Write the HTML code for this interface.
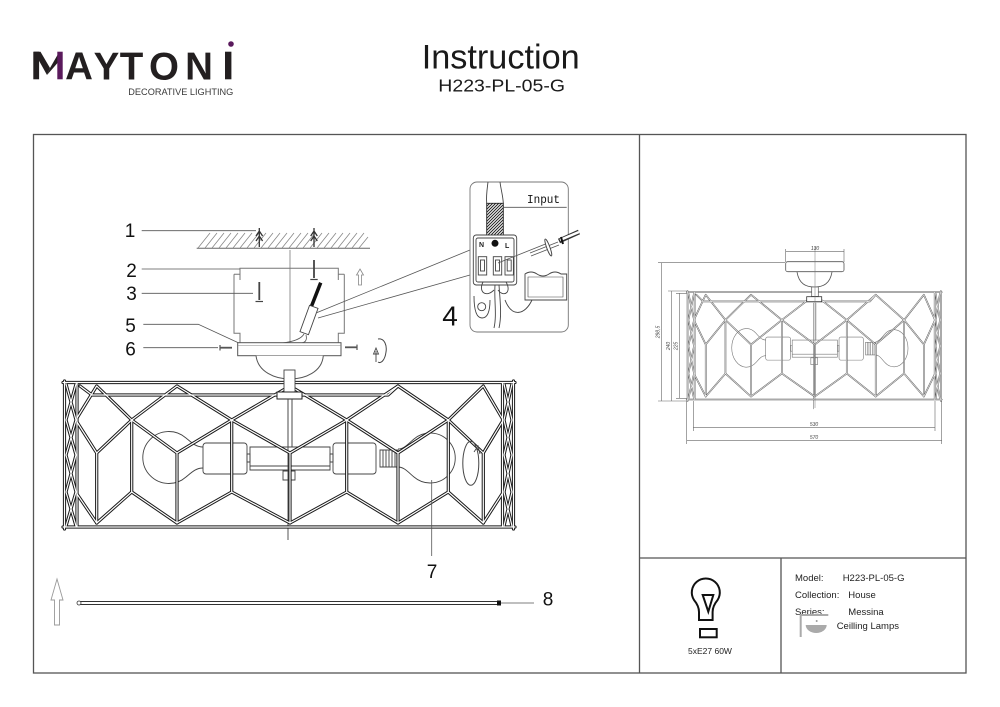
<!DOCTYPE html>
<html><head><meta charset="utf-8"><style>
html,body{margin:0;padding:0;background:#fff;}
svg{display:block;}
</style></head><body>
<svg width="1000" height="707" viewBox="0 0 1000 707" xmlns="http://www.w3.org/2000/svg" font-family="'Liberation Sans', sans-serif">
<defs>
  <pattern id="hatch" patternUnits="userSpaceOnUse" width="3" height="3">
    <rect width="3" height="3" fill="#fff"/>
    <path d="M-1,1 L1,-1 M0,3 L3,0 M2,4 L4,2" stroke="#222" stroke-width="1"/>
  </pattern>
  <g id="drum" fill="none" stroke-linejoin="round" stroke-linecap="round">
    <path vector-effect="non-scaling-stroke" d="M63,382.5 H515 M63,527 H515 M64.5,381 V529 M513.5,381 V529 M77,383 V527 M502.5,383 V527"/>
    <path vector-effect="non-scaling-stroke" d="M80,386 L92,395 L388,395 L398,386"/>
    <path vector-effect="non-scaling-stroke" d="M77,418 L96.7,386 L131.7,420 L177,386 L231.7,420 L290,386 L346.7,420 L398,386 L448.3,420 L483.3,386 L502,418"/>
    <path vector-effect="non-scaling-stroke" d="M77,422 L96.7,453 L131.7,420 L177,453 L231.7,420 L290,453 L346.7,420 L398,453 L448.3,420 L483.3,453 L502,422"/>
    <path vector-effect="non-scaling-stroke" d="M131.7,420 V492 M231.7,420 V492 M346.7,420 V492 M448.3,420 V492 M96.7,453 V523 M177,453 V523 M290,453 V523 M398,453 V523 M483.3,453 V523"/>
    <path vector-effect="non-scaling-stroke" d="M77,494 L96.7,523 L131.7,492 L177,523 L231.7,492 L290,523 L346.7,492 L398,523 L448.3,492 L483.3,523 L502,494"/>
    <path vector-effect="non-scaling-stroke" d="M66,384 L76,420 L66,455 L76,492 L66,526 M76,384 L66,420 L76,455 L66,492 L76,526 M504,384 L512,420 L504,455 L512,492 L504,526 M512,384 L504,420 L512,455 L504,492 L512,526"/>
  </g>
  <g id="bulbs" fill="none">
    <path vector-effect="non-scaling-stroke" d="M203,447 C196,447 192,443 186,438 A26,26 0 1 0 186,477 C192,472 196,468 203,468"/>
    <rect vector-effect="non-scaling-stroke" x="203" y="443" width="44" height="31" rx="3"/>
    <rect vector-effect="non-scaling-stroke" x="247" y="454" width="3" height="8"/>
    <rect vector-effect="non-scaling-stroke" x="250" y="447" width="80" height="23"/>
    <path vector-effect="non-scaling-stroke" d="M250,466 H330"/>
    <rect vector-effect="non-scaling-stroke" x="330" y="454" width="3" height="8"/>
    <rect vector-effect="non-scaling-stroke" x="333" y="443" width="43" height="31" rx="3"/>
    <path vector-effect="non-scaling-stroke" d="M380,450 H398 V467 H380 Z M383,450 V467 M386,450 V467 M389,450 V467 M392,450 V467 M395,450 V467"/>
    <path vector-effect="non-scaling-stroke" d="M398,449 C404,449 408,444 414,439 A25,25 0 1 1 414,477 C408,472 404,467 398,467"/>
    <path vector-effect="non-scaling-stroke" d="M288,397 V540 M292,397 V447"/>
    <rect vector-effect="non-scaling-stroke" x="283" y="471" width="12" height="9"/>
  </g>
</defs>

<!-- Header -->
<rect x="33.3" y="51.7" width="5.8" height="27.6" fill="#231f20"/>
<polygon points="34,51.7 40.5,51.7 50,68 47,75" fill="#231f20"/>
<polygon points="47,75 50,68 57.5,55 57.5,63" fill="#231f20"/>
<rect x="57.3" y="51.7" width="5.4" height="27.6" fill="#5a1a5c"/>
<g font-size="38.5" font-weight="bold" fill="#231f20" text-anchor="middle">
  <text x="79" y="79.3">A</text>
  <text x="106.5" y="79.3">Y</text>
  <text x="131.5" y="79.3">T</text>
  <text x="164" y="79.3">O</text>
  <text x="199" y="79.3">N</text>
</g>
<rect x="225" y="51.7" width="6.4" height="27.6" fill="#231f20"/>
<circle cx="231" cy="44" r="2.8" fill="#5a1a5c"/>
<text x="128.3" y="95" font-size="9.3" fill="#3a3a3a" textLength="105" lengthAdjust="spacingAndGlyphs">DECORATIVE LIGHTING</text>

<text x="421.7" y="68.3" font-size="34.5" fill="#1a1a1a" textLength="158" lengthAdjust="spacingAndGlyphs">Instruction</text>
<text x="438.3" y="91.7" font-size="17.5" fill="#1a1a1a" textLength="126.7" lengthAdjust="spacingAndGlyphs">H223-PL-05-G</text>

<!-- Frame -->
<g stroke="#555" stroke-width="1.3" fill="none">
  <rect x="33.5" y="134.5" width="932.5" height="538.5"/>
  <path d="M639.5,134.5 V673 M639.5,558 H966 M781,558 V673"/>
</g>

<!-- Ceiling -->
<g stroke="#888" stroke-width="0.8">
  <path d="M196.7,248.3 H370" stroke="#666" stroke-width="1"/>
  <path d="M198,248 L210,233 M205,248 L217,233 M212,248 L224,233 M219,248 L231,233 M226,248 L238,233 M233,248 L245,233 M240,248 L252,233 M247,248 L259,233 M254,248 L266,233 M261,248 L273,233 M268,248 L280,233 M275,248 L287,233 M282,248 L294,233 M289,248 L301,233 M296,248 L308,233 M303,248 L315,233 M310,248 L322,233 M317,248 L329,233 M324,248 L336,233 M331,248 L343,233 M338,248 L350,233 M345,248 L357,233 M352,248 L364,233 M359,248 L368,237"/>
</g>
<!-- anchors -->
<g stroke="#333" stroke-width="1.3" fill="none">
  <path d="M259.3,228 V247 M256,236 L259.3,231 L262.6,236 M256,241 L259.3,236 L262.6,241"/>
  <path d="M314,228 V247 M310.7,236 L314,231 L317.3,236 M310.7,241 L314,236 L317.3,241"/>
</g>

<!-- center line -->
<path d="M290,250 V381" stroke="#666" stroke-width="0.7"/>

<!-- Bracket -->
<g stroke="#777" stroke-width="1" fill="none">
  <path d="M240,280 V268.3 H338.3 V280 M234,274.3 H240 M338.3,274.3 H344.3 M234,274.3 V333.3 H240 V343 M344.3,274.3 V333.3 H338.3 V343"/>
</g>
<!-- screws -->
<g stroke="#444" fill="none">
  <path d="M259.3,282 V300" stroke-width="1.8"/>
  <path d="M255.5,301.5 H263" stroke-width="1.2"/>
  <path d="M314,260 V278" stroke-width="1.8"/>
  <path d="M310.3,279.5 H317.7" stroke-width="1.2"/>
</g>
<!-- up arrow -->
<polygon points="360,269 363.5,275 361.5,275 361.5,285 358.5,285 358.5,275 356.5,275" fill="none" stroke="#888" stroke-width="0.8"/>
<!-- wire & connector -->
<path d="M320.7,282.7 L310,310" stroke="#111" stroke-width="3.5"/>
<rect x="304.5" y="306" width="9" height="28" transform="rotate(20 309 320)" fill="#fff" stroke="#444" stroke-width="0.9"/>
<path d="M304,334 Q300,341 282,343 M306,335 Q308,343 300,343" stroke="#555" stroke-width="0.8" fill="none"/>

<!-- Plate and dome -->
<rect x="237.7" y="342.7" width="103.3" height="13" fill="#fff" stroke="#555" stroke-width="1"/>
<path d="M238,345.5 H341" stroke="#888" stroke-width="0.6"/>
<path d="M256,355.7 C258,372 275,379 290,379 C305,379 322,372 323.3,355.7" fill="#fff" stroke="#555" stroke-width="1"/>
<!-- item 6 screws -->
<g stroke="#555" fill="none">
  <path d="M220,347.7 H232" stroke-width="1.8"/>
  <path d="M220,345 V350.5" stroke-width="1.2"/>
  <path d="M345,347.3 H357" stroke-width="1.8"/>
  <path d="M357,344.6 V350" stroke-width="1.2"/>
</g>
<!-- rotation symbol -->
<path d="M378,339 C385,338 387,346 386,352 C385,360 381,364 378,362" fill="none" stroke="#444" stroke-width="1"/>
<path d="M376,362 V351 M373.5,354 L376,348 L378.5,354 Z" fill="none" stroke="#444" stroke-width="0.9"/>

<!-- Main lamp -->
<use href="#bulbs" stroke="#444" stroke-width="0.9"/>
<use href="#drum" stroke="#1a1a1a" stroke-width="3.2"/>
<use href="#drum" stroke="#fff" stroke-width="1.2"/>
<rect x="284" y="370" width="11" height="24" fill="#fff" stroke="#444" stroke-width="0.9"/>
<rect x="277" y="392" width="25" height="7" fill="#fff" stroke="#222" stroke-width="1"/>
<path d="M288,399 V447 M292,399 V447" stroke="#444" stroke-width="0.7"/>
<ellipse cx="470.8" cy="463.3" rx="8" ry="22" fill="none" stroke="#444" stroke-width="1"/>
<path d="M474,452 L478,446 L480,454" fill="none" stroke="#444" stroke-width="0.9"/>

<!-- Leaders -->
<g stroke="#555" stroke-width="0.8" fill="none">
  <path d="M141.7,230.7 H256"/>
  <path d="M141.7,269 H240"/>
  <path d="M141.7,293.3 H253"/>
  <path d="M143.3,324.3 H198.3 L238.3,342.7"/>
  <path d="M143.3,347.7 H218"/>
  <path d="M316,313 L470,250 L486,245"/>
  <path d="M318,318 L470,275"/>
  <path d="M431.7,480 V556"/>
  <path d="M500,603 H534"/>
</g>
<g font-size="19" fill="#111" text-anchor="middle">
  <text x="130" y="237">1</text>
  <text x="131.5" y="277">2</text>
  <text x="131.5" y="300">3</text>
  <text x="130.5" y="332">5</text>
  <text x="130.5" y="355.5">6</text>
  <text x="432" y="578">7</text>
  <text x="548" y="605.5">8</text>
  <text x="450" y="325.5" font-size="28">4</text>
</g>

<!-- Rod 8 -->
<path d="M79,601.5 H499 M79,604.5 H499" stroke="#333" stroke-width="1"/>
<circle cx="79" cy="603" r="2" fill="#fff" stroke="#333" stroke-width="0.8"/>
<rect x="497" y="600.5" width="4" height="5" fill="#111"/>
<polygon points="57,579 63,600 59.5,600 59.5,625 54.5,625 54.5,600 51,600" fill="none" stroke="#999" stroke-width="0.9"/>

<!-- Inset -->
<rect x="470" y="182" width="98.3" height="150" rx="7" fill="#fff" stroke="#777" stroke-width="0.9"/>
<path d="M488,182 C487,190 486,196 486.7,203.3 M500,182 C501,190 503,196 503.3,203.3" fill="none" stroke="#444" stroke-width="0.9"/>
<rect x="486.7" y="203.3" width="16.6" height="31.7" fill="url(#hatch)" stroke="#222" stroke-width="0.9"/>
<path d="M503.3,207.3 H566.7" stroke="#555" stroke-width="0.8"/>
<text x="527" y="203" font-family="'Liberation Mono', monospace" font-size="11.5" fill="#111" textLength="33" lengthAdjust="spacingAndGlyphs">Input</text>
<g fill="none" stroke="#444" stroke-width="0.9">
  <rect x="473.3" y="235" width="43.4" height="50" rx="3"/>
  <rect x="476" y="238" width="38" height="44" rx="2"/>
  <rect x="478.3" y="256.7" width="8.4" height="18.3"/>
  <rect x="480.5" y="260" width="4" height="11"/>
  <rect x="493.3" y="256.7" width="8.4" height="18.3"/>
  <rect x="495.5" y="260" width="4" height="11"/>
  <rect x="505" y="256.7" width="8.4" height="18.3"/>
  <rect x="507.2" y="260" width="4" height="11"/>
  <path d="M483,282 C478,292 486,298 494,290 M506,282 C512,292 504,298 498,290"/>
  <path d="M474,296 Q474,318 482,318 Q490,318 490,300"/>
  <circle cx="481.7" cy="306.7" r="4"/>
  <path d="M495,285 C494,300 497,315 494,328 M499,285 C500,300 502,315 499,328"/>
  <path d="M505,300 C512,318 525,315 532,300"/>
  <path d="M525,274 Q531,270 537,274 T549,274 T561,274 L566.7,274 V300 H525 Z"/>
  <path d="M528,277 H563 V297 H528 Z" stroke-width="0.6"/>
</g>
<text x="479" y="247" font-size="7" font-weight="bold" fill="#222">N</text>
<text x="505" y="248" font-size="7" font-weight="bold" fill="#222">L</text>
<circle cx="495" cy="243.3" r="3.5" fill="#111"/>
<path d="M498,263 L548,243" stroke="#555" stroke-width="0.8"/>
<path d="M530,253 L558,242 M531,256 L559,245" stroke="#555" stroke-width="0.8"/>
<ellipse cx="548.3" cy="247.5" rx="1.6" ry="9" transform="rotate(-20 548.3 247.5)" fill="#fff" stroke="#444" stroke-width="0.9"/>
<path d="M559,241 L579,232" stroke="#333" stroke-width="5"/>
<path d="M560,240 L579,232" stroke="#fff" stroke-width="2.5"/>
<path d="M561,237 L563,244" stroke="#111" stroke-width="2"/>

<!-- Right dimension drawing -->
<rect x="785.7" y="261.7" width="58.3" height="10" rx="2" fill="none" stroke="#555" stroke-width="0.8"/>
<path d="M797,272 C799,284 806,287 814.5,287 C823,287 830,284 832,272" fill="none" stroke="#555" stroke-width="0.8"/>
<g transform="matrix(0.5642 0 0 0.7432 651.16 7.84)">
  <use href="#bulbs" stroke="#777" stroke-width="0.6"/>
  <use href="#drum" stroke="#555" stroke-width="1.6"/>
  <use href="#drum" stroke="#fff" stroke-width="0.6"/>
</g>
<rect x="811.7" y="287" width="6.6" height="9.5" fill="#fff" stroke="#555" stroke-width="0.7"/>
<rect x="806.7" y="296.7" width="15" height="5" fill="#fff" stroke="#333" stroke-width="0.8"/>
<path d="M815,246 V408" stroke="#777" stroke-width="0.5"/>
<g stroke="#666" stroke-width="0.6" fill="none">
  <path d="M785.7,249 V262 M844,249 V262 M785.7,251.7 H844"/>
  <path d="M658,262.7 H785 M658,401 H687 M661.7,262.7 V401"/>
  <path d="M668,291 H687 M671.7,291 V401"/>
  <path d="M676,293.3 H687 M679.3,293.3 V398.3 M676,398.3 H687"/>
  <path d="M693.3,401 V431 M935,401 V431 M693.3,427.7 H935"/>
  <path d="M686.7,401 V444 M941.7,401 V444 M686.7,440.7 H941.7"/>
</g>
<g font-size="5" font-style="italic" fill="#444" text-anchor="middle">
  <text x="815" y="250">130</text>
  <text transform="translate(659.5 332) rotate(-90)">298,5</text>
  <text transform="translate(669.8 346) rotate(-90)">240</text>
  <text transform="translate(677.4 346) rotate(-90)">225</text>
  <text x="814" y="426">530</text>
  <text x="814" y="439">570</text>
</g>

<!-- Bottom table -->
<path d="M694,600 A14,14 0 1 1 717.6,600 Q712.6,606 712.6,612 L712.6,620 L699,620 L699,612 Q699,606 694,600 Z" fill="none" stroke="#111" stroke-width="2"/>
<rect x="700" y="629" width="16.7" height="8.3" fill="none" stroke="#111" stroke-width="2"/>
<polygon points="702.7,595 713.3,595 708.3,611.7" fill="none" stroke="#111" stroke-width="2"/>
<text x="710" y="654" font-size="8.5" fill="#222" text-anchor="middle">5xE27 60W</text>

<g font-size="9.5" fill="#222">
  <text x="795" y="580.8">Model:</text>
  <text x="842.7" y="580.8">H223-PL-05-G</text>
  <text x="795" y="597.8">Collection:</text>
  <text x="848.3" y="597.8">House</text>
  <text x="795" y="615.2">Series:</text>
  <text x="848.3" y="615.2">Messina</text>
  <text x="836.7" y="629">Ceilling Lamps</text>
</g>
<path d="M800.7,637 V615 H828.3" fill="none" stroke="#aaa" stroke-width="2"/>
<path d="M805.7,625 H826.7 A10.5,8 0 0 1 805.7,625 Z" fill="#aaa"/>
<circle cx="816.7" cy="621" r="1" fill="#999"/>
</svg>
</body></html>
